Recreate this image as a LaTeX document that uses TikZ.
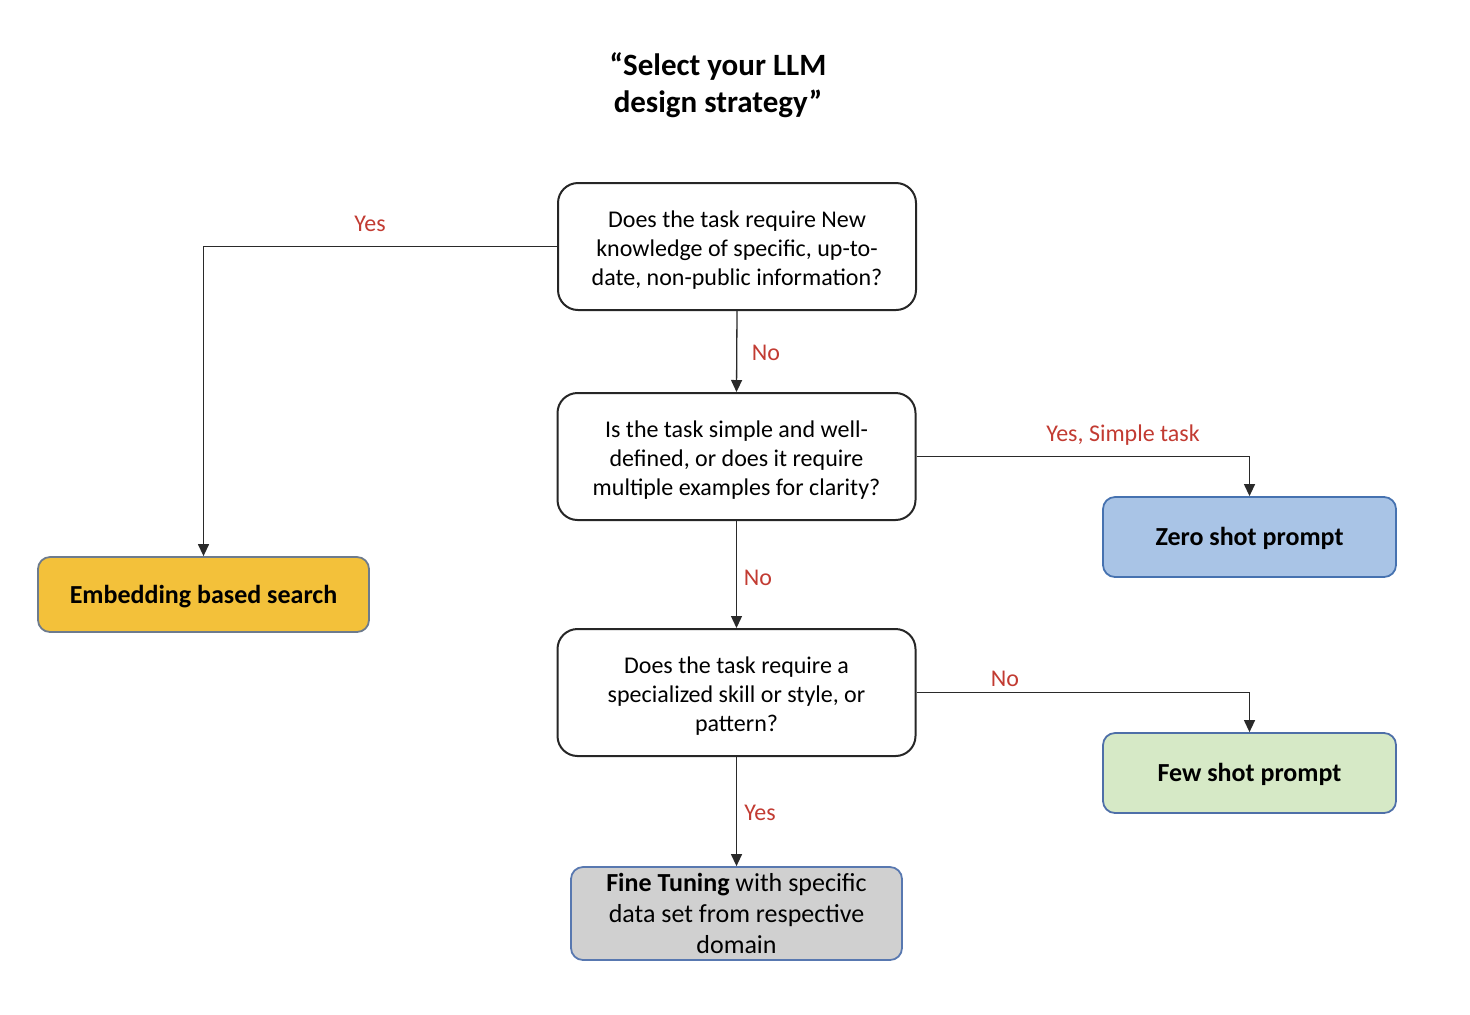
\documentclass[tikz,border=0pt]{standalone}
\usepackage{fontspec}
\setmainfont{Carlito}
\usetikzlibrary{arrows.meta}
\definecolor{lblred}{HTML}{C23B32}
\definecolor{yelfill}{HTML}{F3C13A}
\definecolor{yelbord}{HTML}{6D7B8D}
\definecolor{bluefill}{HTML}{A9C4E6}
\definecolor{bluebord}{HTML}{4672B0}
\definecolor{greenfill}{HTML}{D6E9C6}
\definecolor{greenbord}{HTML}{4E6FA8}
\definecolor{grayfill}{HTML}{D0D0D0}
\definecolor{graybord}{HTML}{5878B0}
\definecolor{linecol}{HTML}{2A2A2A}
\begin{document}
\begin{tikzpicture}[x=0.5pt,y=-0.5pt,
  qbox/.style={draw=black!85,line width=1pt,rounded corners=10pt,fill=white,
    minimum width=179pt,minimum height=63.5pt,inner sep=0pt,align=center,
    font=\fontsize{12}{14.5}\selectfont},
  abox/.style={line width=0.9pt,rounded corners=6pt,inner sep=0pt,align=center,
    font=\fontsize{13}{15.5}\selectfont\bfseries},
  lbl/.style={text=lblred,font=\fontsize{12}{14}\selectfont,inner sep=0pt},
  conn/.style={draw=linecol,line width=0.65pt,-{Triangle[length=6pt,width=5.5pt]}},
  ttl/.style={align=center,font=\fontsize{15.5}{18.5}\selectfont\bfseries,inner sep=0pt}]
\useasboundingbox (0,0) rectangle (1470,1014);
\node[ttl] (title) at (718,85) {“Select your LLM\\design strategy”};
\node[qbox] (q1) at (737,246.5) {\rule{0pt}{11.5pt}Does the task require New\\knowledge of specific, up-to-\\date, non-public information?};
\node[qbox] (q2) at (736.5,456.5) {\rule{0pt}{11.5pt}Is the task simple and well-\\defined, or does it require\\multiple examples for clarity?};
\node[qbox] (q3) at (736.5,692.5) {\rule{0pt}{11.5pt}Does the task require a\\specialized skill or style, or\\pattern?};
\node[abox,draw=yelbord,fill=yelfill,minimum width=165.5pt,minimum height=37.5pt] (emb) at (203.5,594.5) {\rule{0pt}{11pt}Embedding based search};
\node[abox,draw=bluebord,fill=bluefill,minimum width=146.5pt,minimum height=40pt] (zero) at (1249.5,537) {\rule{0pt}{11pt}Zero shot prompt};
\node[abox,draw=greenbord,fill=greenfill,minimum width=146.5pt,minimum height=40pt] (few) at (1249.5,773) {\rule{0pt}{11pt}Few shot prompt};
\node[abox,draw=graybord,fill=grayfill,minimum width=165.5pt,minimum height=46.5pt,font=\fontsize{13}{15.5}\selectfont] (fine) at (736.5,913.5) {\textbf{Fine Tuning} with specific\\data set from respective\\domain};
\draw[conn] (q1.west) -| (emb.north);
\draw[conn] (q1.south) -- (q2.north);
\draw[conn] (q2.east) -| (zero.north);
\draw[conn] (q2.south) -- (q3.north);
\draw[conn] (q3.east) -| (few.north);
\draw[conn] (q3.south) -- (fine.north);
\node[lbl] (l1) at (370,224) {Yes};
\node[lbl] (l2) at (766,353) {No};
\node[lbl] (l3) at (1123,435) {Yes, Simple task};
\node[lbl] (l4) at (758,578) {No};
\node[lbl] (l5) at (1005,679) {No};
\node[lbl] (l6) at (760,813) {Yes};
\end{tikzpicture}
\end{document}
